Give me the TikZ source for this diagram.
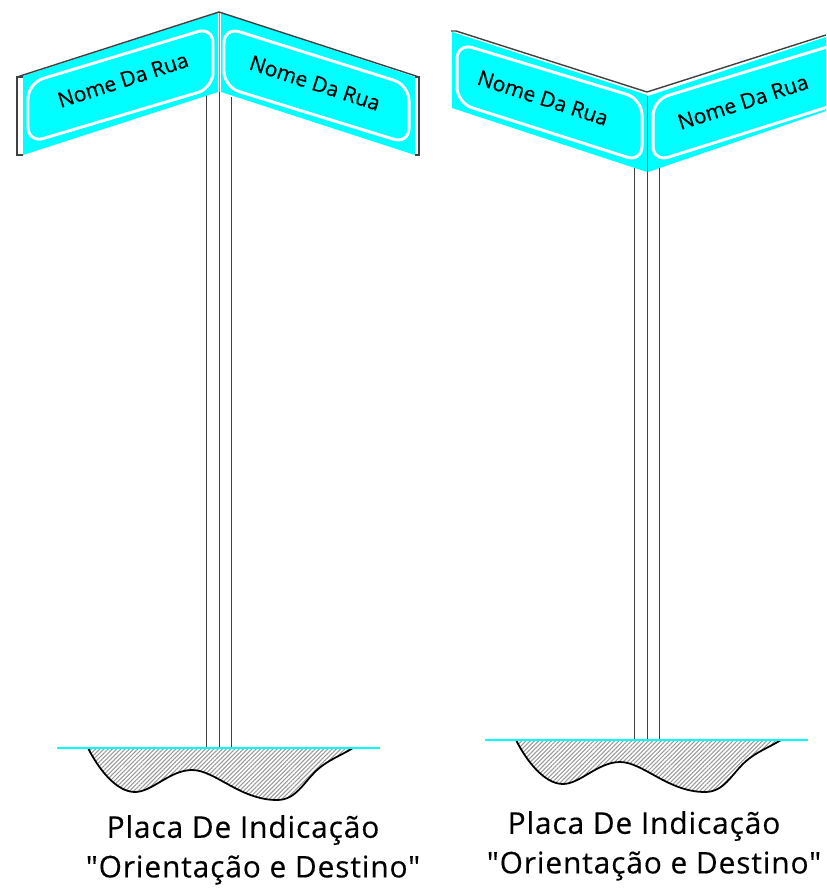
\documentclass[tikz,border=0pt]{standalone}
\usepackage{fontspec}
\newfontfamily\signfont[FakeBold=0.35]{Open Sans}
\usetikzlibrary{patterns.meta}
\definecolor{signcyan}{RGB}{0,255,255}
\tikzset{
  panel/.style={fill=signcyan, draw=none},
  frame/.style={draw=white, line width=1.7pt, rounded corners=9pt},
  edgeline/.style={draw=black!75, line width=0.8pt},
  postline/.style={draw=black!75, line width=0.6pt},
  groundline/.style={draw=signcyan, line width=1.2pt},
  soil/.style={draw=black, line width=1pt, pattern={Lines[angle=45, distance=1.7pt, line width=0.6pt]}, pattern color=black!40},
  signtext/.style={font=\signfont\fontsize{12}{14}\selectfont},
  captiontext/.style={font=\signfont\fontsize{17}{20}\selectfont\addfontfeatures{LetterSpace=3}}
}
\begin{document}
\begin{tikzpicture}[x=0.02cm, y=-0.02cm]
            \useasboundingbox (0,0) rectangle (826,891);
            % left sign
            \draw [postline] (206.5,95)--(206.5,748);
            \draw [postline] (219.5,92)--(219.5,748);
            \draw [postline] (231.5,97)--(231.5,748);
            \fill [panel] (23,76)--(218,13)--(218,92)--(23,155)--cycle;
            \fill [panel] (221,13)--(415,77)--(415,155)--(221,92)--cycle;
            \draw [frame] (28,83)--(213,27)--(213,88)--(28,143)--cycle;
            \draw [frame] (224,27)--(409,85)--(409,144)--(224,87)--cycle;
            \draw [edgeline] (23,77)--(17,77)--(17,155)--(23,155);
            \draw [edgeline] (415,77)--(419,77)--(419,155)--(415,155);
            \draw [edgeline] (17,77)--(219,12)--(419,77);
            \draw [draw=black!40, line width=0.4pt] (219,13)--(219,92);
            \node [signtext, rotate=18] (nameA) at (123,80) {Nome Da Rua};
            \node [signtext, rotate=-18] (nameB) at (315,83) {Nome Da Rua};
            % left ground
            \draw [soil] (88,748) .. controls (98,768) and (116,792) .. (135,792) .. controls (152,792) and (170,770) .. (192,770) .. controls (215,770) and (240,800) .. (277,800) .. controls (296,800) and (303,783) .. (317,770) .. controls (328,760) and (340,756) .. (353,748);
            \draw [groundline] (57,748)--(380,748);
            \node [captiontext] (captionA) at (243,830) {Placa De Indicação};
            \node [captiontext] (captionB) at (253,870) {"Orientação e Destino"};
            % right sign
            \draw [postline] (634.5,168)--(634.5,740);
            \draw [postline] (647.5,172)--(647.5,740);
            \draw [postline] (659.5,168)--(659.5,740);
            \begin{scope}
            \clip (0,0) rectangle (826,891);
            \fill [panel] (452,32)--(647,95)--(647,172)--(452,108)--cycle;
            \fill [panel] (648,96)--(826,37)--(826,111)--(648,172)--cycle;
            \draw [frame] (457,43)--(642,99)--(642,162)--(457,103)--cycle;
            \draw [frame] (653,100)--(850,40)--(850,100)--(653,162)--cycle;
            \draw [edgeline] (451,31)--(456,31)--(647,92)--(826,35);
            \end{scope}
            \draw [draw=teal, line width=0.6pt] (647.5,96)--(647.5,172);
            \node [signtext, rotate=-18] (nameC) at (543,98) {Nome Da Rua};
            \node [signtext, rotate=18] (nameD) at (743,102) {Nome Da Rua};
            % right ground
            \draw [soil] (516,740) .. controls (526,760) and (544,784) .. (563,784) .. controls (580,784) and (598,762) .. (620,762) .. controls (643,762) and (668,792) .. (705,792) .. controls (724,792) and (731,775) .. (745,762) .. controls (756,752) and (768,748) .. (781,740);
            \draw [groundline] (485,740)--(808,740);
            \node [captiontext] (captionC) at (644,826) {Placa De Indicação};
            \node [captiontext] (captionD) at (654,866) {"Orientação e Destino"};
\end{tikzpicture}
\end{document}
